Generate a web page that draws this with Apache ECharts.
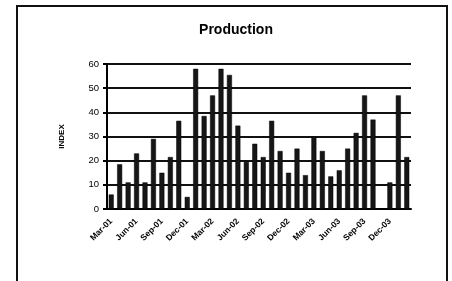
<!DOCTYPE html>
<html><head><meta charset="utf-8">
<script src="https://cdn.jsdelivr.net/npm/echarts@6/dist/echarts.min.js"></script>
<style>html,body{margin:0;padding:0;background:#fff}#c{width:452px;height:281px}</style>
</head><body><div id="c"></div>
<script>
const titleText = 'Production';
const yAxisName = 'INDEX';
const categories = [
 'Mar-01','Apr-01','May-01','Jun-01','Jul-01','Aug-01','Sep-01','Oct-01','Nov-01','Dec-01','Jan-02','Feb-02',
 'Mar-02','Apr-02','May-02','Jun-02','Jul-02','Aug-02','Sep-02','Oct-02','Nov-02','Dec-02','Jan-03','Feb-03',
 'Mar-03','Apr-03','May-03','Jun-03','Jul-03','Aug-03','Sep-03','Oct-03','Nov-03','Dec-03','Jan-04','Feb-04'];
const values = [
 6, 18.5, 11, 23, 11, 29, 15, 21.5, 36.5, 5, 58, 38.5,
 47, 58, 55.5, 34.5, 19.5, 27, 21.5, 36.5, 24, 15, 25, 14,
 30, 24, 13.5, 16, 25, 31.5, 47, 37, 0, 11, 47, 21.5];
const yTicks = {min: 0, max: 60, interval: 10};

const chart = echarts.init(document.getElementById('c'));
chart.setOption({
  animation: false,
  backgroundColor: '#fff',
  title: {text: titleText, left: 231, top: 18, textAlign: 'center',
    textStyle: {fontFamily: 'Liberation Sans', fontSize: 14, fontWeight: 'bold', color: '#000'}},
  graphic: [{type: 'rect', shape: {x: 17, y: 6, width: 430, height: 300},
    style: {fill: null, stroke: '#111', lineWidth: 2}, silent: true}],
  grid: {left: 107, right: 41, top: 64, bottom: 72},
  xAxis: {
    type: 'category', data: categories, boundaryGap: true,
    axisLine: {lineStyle: {color: '#000', width: 2}},
    axisTick: {interval: 2, length: 4, lineStyle: {color: '#000', width: 2}},
    axisLabel: {interval: 2, rotate: 45, fontSize: 8.5, fontWeight: 'bold', color: '#000',
      fontFamily: 'Liberation Sans', margin: 11}
  },
  yAxis: {
    type: 'value', min: yTicks.min, max: yTicks.max, interval: yTicks.interval,
    name: yAxisName, nameLocation: 'middle', nameGap: 41, nameRotate: 90,
    nameTextStyle: {fontSize: 8, fontWeight: 'bold', color: '#000', fontFamily: 'Liberation Sans'},
    axisLine: {show: true, lineStyle: {color: '#000', width: 2}},
    axisTick: {show: true, length: 4, lineStyle: {color: '#000', width: 2}},
    axisLabel: {fontSize: 9.5, color: '#000', fontFamily: 'Liberation Sans', margin: 8},
    splitLine: {lineStyle: {color: '#111', width: 2}}
  },
  series: [{type: 'bar', data: values, barWidth: 5,
    itemStyle: {color: '#161616', borderColor: '#000', borderWidth: 0.5}}]
});
</script></body></html>
